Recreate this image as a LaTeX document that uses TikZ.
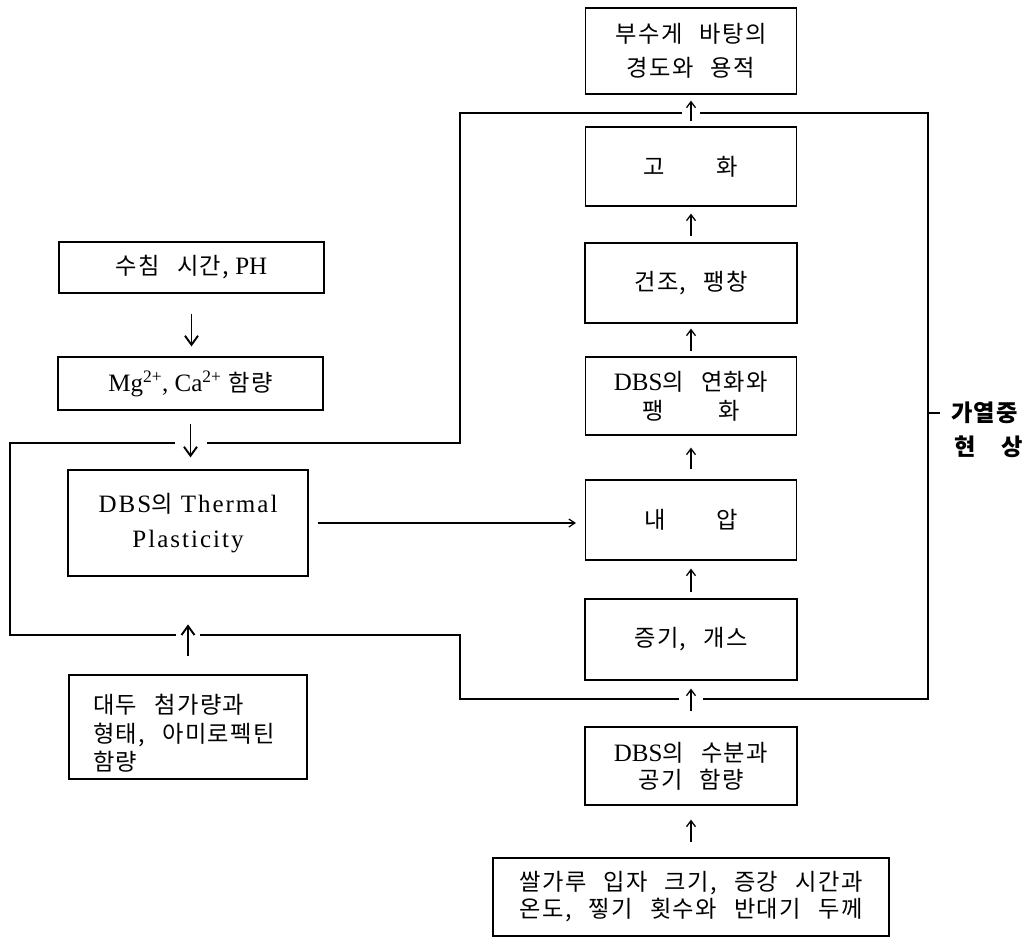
\documentclass[tikz,border=0pt]{standalone}
\usepackage{fontspec}
\setmainfont{Liberation Serif}
\newfontfamily\kr[Scale=0.93,LetterSpace=6,WordSpace=2.6]{Noto Sans CJK KR}
\newfontfamily\latw[LetterSpace=8]{Liberation Serif}
\newcommand{\kor}[1]{{\kr #1}}
\usetikzlibrary{arrows.meta,calc}
\begin{document}
\begin{tikzpicture}[x=1pt,y=-1pt,
  box/.style={draw,line width=1.2pt,inner sep=0pt,align=center,font=\fontsize{25}{29}\selectfont},
  frame/.style={line width=1.6pt,line join=miter},
  uparr/.style={line width=1.3pt,-{Straight Barb[length=6pt,width=9pt,line width=1.3pt]}},
  thinarr/.style={line width=1.2pt,-{Straight Barb[length=6pt,width=8pt,line width=1.2pt]}},
  bigarr/.style={line width=1.9pt,-{Straight Barb[length=9pt,width=13pt,line width=1.9pt]}},
  lab/.style={inner sep=0pt,anchor=west,font=\fontsize{25}{29}\selectfont\kr\bfseries}
]
\useasboundingbox (0,0) rectangle (1033,938);

% right column
\node[box,minimum width=211pt,minimum height=86pt,font=\fontsize{25}{34}\selectfont] (res) at (691,51) {\kor{부수게 바탕의}\\\kor{경도와 용적}};
\node[box,minimum width=211pt,minimum height=79pt] (gh) at (691,166.5) {\kor{고\hspace{52pt}화}};
\node[box,minimum width=212pt,minimum height=80pt] (gj) at (691,283) {\kor{건조, 팽창}};
\node[box,minimum width=211pt,minimum height=78pt] (yh) at (691,396) {DBS\kor{의 연화와}\\\kor{팽\hspace{55pt}화}};
\node[box,minimum width=211pt,minimum height=80pt] (na) at (691,520) {\kor{내\hspace{51pt}압}};
\node[box,minimum width=212pt,minimum height=81pt] (jg) at (691,639.5) {\kor{증기, 개스}};
\node[box,minimum width=212pt,minimum height=78pt,font=\fontsize{25}{27}\selectfont] (sb) at (691,766) {DBS\kor{의 수분과}\\\kor{공기 함량}};
\node[box,minimum width=396pt,minimum height=78pt,font=\fontsize{25}{27}\selectfont] (sg) at (691,897) {\kor{쌀가루 입자 크기, 증강 시간과}\\\kor{온도, 찧기 횟수와 반대기 두께}};

% left column
\node[box,minimum width=265pt,minimum height=51pt] (sc) at (191.5,267.5) {\kor{수침 시간,} PH};
\node[box,minimum width=265pt,minimum height=53pt] (mg) at (190.5,383.5) {Mg\textsuperscript{2+}, Ca\textsuperscript{2+}\hspace{7pt}\kor{함량}};
\node[box,minimum width=240pt,minimum height=106pt,font=\fontsize{25}{35}\selectfont\latw] (th) at (188,523) {DBS\kor{의} Thermal\\Plasticity};
\node[box,minimum width=238pt,minimum height=104pt] (dd) at (188,727) {};
\node[inner sep=0pt,anchor=north west,align=left,font=\fontsize{25}{28.5}\selectfont] (ddt) at (93,694) {\kor{대두 첨가량과}\\\kor{형태, 아미로펙틴}\\\kor{함량}};

% bracket frame
\draw[frame] (175,443) -- (10,443) -- (10,635) -- (176,635);
\draw[frame] (200,635) -- (460,635) -- (460,699) -- (679,699);
\draw[frame] (703,699) -- (928,699) -- (928,113) -- (700,113);
\draw[frame] (682,113) -- (460,113) -- (460,443) -- (207,443);

% side label
\node[lab] (lab1) at (951,413) {가열중};
\node[lab] (lab2) at (954,447) {현\hspace{26pt}상};
\coordinate (dashL) at (928,413);
\draw[line width=1.6pt] (dashL) -- ($(lab1.west)+(-11,0)$);

% arrows, left
\draw[bigarr] ($(sc.south)+(0,20)$) -- ($(sc.south |- mg.north)+(0,-10)$);
\draw[bigarr] ($(mg.south)+(0,13)$) -- ($(mg.south |- th.north)+(0,-12)$);
\draw[bigarr] ($(dd.north)+(0,-18)$) -- ($(dd.north)+(0,-50)$);
\draw[thinarr] ($(th.east)+(9,0)$) -- ($(th.east -| na.west)+(-9,0)$);

% arrows, right column
\draw[uparr] ($(sg.north)+(0,-15)$) -- ($(sg.north |- sb.south)+(0,14)$);
\draw[uparr] ($(sb.north)+(0,-15)$) -- ($(sb.north |- jg.south)+(0,8)$);
\draw[uparr] ($(jg.north)+(0,-6)$) -- ($(jg.north |- na.south)+(0,8)$);
\draw[uparr] ($(na.north)+(0,-10)$) -- ($(na.north |- yh.south)+(0,12)$);
\draw[uparr] ($(yh.north)+(0,-5)$) -- ($(yh.north |- gj.south)+(0,5)$);
\draw[uparr] ($(gj.north)+(0,-6)$) -- ($(gj.north |- gh.south)+(0,7)$);
\draw[uparr] ($(gh.north)+(0,-5)$) -- ($(gh.north |- res.south)+(0,6)$);
\end{tikzpicture}
\end{document}
